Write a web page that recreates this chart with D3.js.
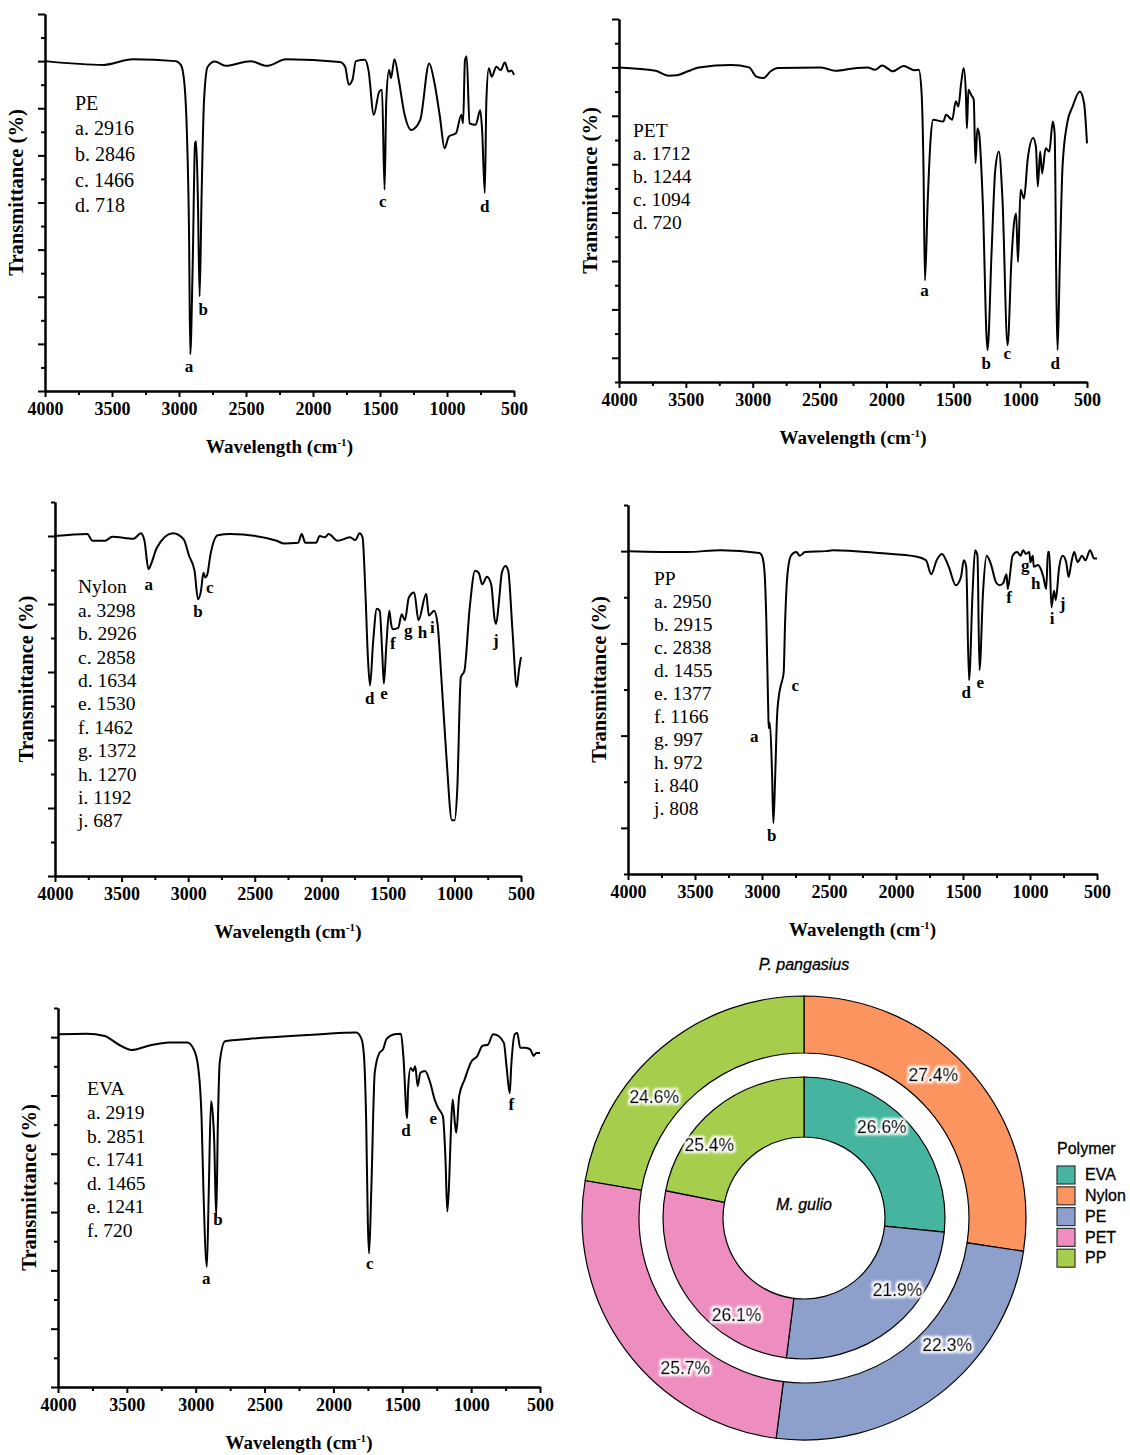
<!DOCTYPE html>
<html>
<head>
<meta charset="utf-8">
<title>FTIR spectra of polymers and polymer share</title>
<script src="https://d3js.org/d3.v7.min.js"></script>
<style>
    body { margin: 0; background: #fff; }
    .axis path, .axis line { stroke: #000; stroke-width: 2px; }
    .axis text { font-family: "Liberation Serif", serif; font-size: 18px; font-weight: bold; fill: #000; }
    .spectrum { fill: none; stroke: #000; stroke-width: 2px; stroke-linejoin: round; }
    .ax-title { font-family: "Liberation Serif", serif; font-weight: bold; }
    .peak-list { font-family: "Liberation Serif", serif; }
    .peak-mark { font-family: "Liberation Serif", serif; font-size: 17px; font-weight: bold; }
    .donut text { font-family: "Liberation Sans", Arial, sans-serif; }
</style>
</head>
<body>
<svg id="fig" width="1130" height="1455"></svg>
<script>
// DATA ========================================================
// spectra: [wavenumber (cm-1), transmittance (arbitrary units)]
const peData = [[4000,70],[3560,69.2],[3346,70.4],[3026,70],[2986,69.2],[2960,65.3],[2941,54.7],[2925,33.5],
    [2916,7.8],[2898,26.5],[2880,52.6],[2872,53],[2859,40.6],[2846,20.1],[2832,40.6],[2813,61.8],[2786,68.8],
    [2733,69.9],[2653,69],[2466,70],[2346,69],[2200,70.4],[1799,69.8],[1760,68.8],[1733,65],[1706,66],[1680,70],
    [1613,70.3],[1586,68.1],[1546,58.6],[1506,63.5],[1485,63.9],[1466,42.7],[1453,61.8],[1432,68.1],[1418,66.4],
    [1392,70.4],[1360,66],[1319,59],[1266,55.4],[1200,57.5],[1133,69.5],[1093,65.3],[1053,58.2],[1018,51.5],
    [986,54],[933,54.7],[893,58.6],[880,56.8],[866,70.2],[853,71],[832,56.8],[786,56.5],[752,59.6],[738,55.4],
    [718,42],[706,61.8],[688,68.5],[666,66.7],[632,68.8],[600,68.1],[568,69.7],[541,67.8],[520,68],[500,67.1]];

const petData = [[4000,60],[3726,59.3],[3632,58.3],[3565,58.4],[3484,59.2],[3403,60],[3161,60.5],[3027,60],
    [2973,58.1],[2919,57.8],[2866,59.2],[2812,59.9],[2489,60],[2382,59.3],[2220,59.9],[2140,60],[2086,59.5],
    [2032,60.4],[1952,59.2],[1871,60.3],[1790,59.4],[1758,59.5],[1737,54.7],[1723,39.5],[1712,16],[1691,32.6],
    [1670,45],[1651,49.2],[1575,48.8],[1554,50.2],[1508,49.2],[1481,53],[1462,51.9],[1441,56.8],[1422,59.9],
    [1406,54.7],[1398,47.4],[1387,55.4],[1366,54.3],[1347,53.3],[1334,40.2],[1320,47.4],[1307,46.4],[1280,32.6],
    [1244,1.6],[1213,22.3],[1186,38.8],[1159,42.6],[1132,32.6],[1094,2.6],[1065,20.2],[1046,27.8],[1030,29.8],
    [1016,19.8],[997,34.7],[971,32.9],[944,40.9],[903,45.4],[882,43.6],[868,35.4],[850,42.6],[836,38.1],
    [809,43.3],[782,42.6],[756,48.8],[742,46.4],[728,11.9],[720,1.6],[704,18.8],[683,39.5],[648,48.5],
    [608,51.9],[554,55],[522,52.6],[500,44.3]];

const nylonData = [[4000,50],[3758,50.3],[3718,49.3],[3624,49.3],[3570,49.9],[3409,49.6],[3355,50.4],[3328,49.3],
    [3298,45.1],[3280,45.8],[3234,48.3],[3114,50.4],[3033,49.5],[2993,47.1],[2952,44.9],[2926,40.7],[2904,41.9],
    [2885,44.6],[2872,43.9],[2858,44.2],[2832,47.3],[2778,50.1],[2684,50.3],[2335,49.3],[2281,48.9],[2174,49],
    [2147,50.3],[2120,49],[2039,49],[2012,50],[1972,49.8],[1945,50.3],[1878,49.3],[1784,49.8],[1744,49.4],
    [1712,50.4],[1690,49.8],[1669,41.9],[1650,32.2],[1634,28],[1610,34.6],[1583,39.3],[1561,39],[1542,32.7],
    [1530,28.3],[1511,34.1],[1489,39],[1476,37.1],[1462,36.3],[1422,36.5],[1396,38.5],[1372,37.6],[1342,41],
    [1302,41.7],[1270,37.6],[1212,41.5],[1192,38.3],[1153,39],[1127,37.1],[1100,29.7],[1060,17.5],[1019,8.2],
    [998,8.2],[979,12.6],[952,29.2],[925,30.2],[885,39.5],[845,44.9],[818,44.6],[791,42.9],[756,44],[724,42.9],
    [697,37.6],[687,37.1],[665,40.5],[644,44.6],[617,45.6],[596,44.9],[564,36.1],[532,27.8],[516,30.2],[500,32.2]];

const ppData = [[4000,30],[3568,29.9],[3307,30.1],[3019,29.8],[2998,29.4],[2980,27.5],[2967,22.1],[2954,13.1],
    [2950,10.8],[2941,11.4],[2925,5.9],[2915,0.5],[2901,5.9],[2888,12],[2875,14.2],[2862,15.3],[2849,16],
    [2838,16.9],[2828,22.1],[2810,27.5],[2784,29.5],[2744,29.9],[2718,29.5],[2679,29.9],[2522,30],[2470,30.1],
    [2129,29.8],[1842,29.4],[1776,29],[1737,27.5],[1697,29],[1658,29.7],[1606,28.3],[1554,26.3],[1515,27.2],
    [1494,29],[1476,28.3],[1455,16],[1428,25.7],[1410,30.1],[1392,29.5],[1377,17.1],[1350,25.7],[1324,29.5],
    [1292,28.6],[1253,26.6],[1227,26.3],[1201,26.5],[1175,27.5],[1166,25.9],[1130,29.5],[1096,29.9],[1070,29.5],
    [1052,30.1],[1031,29.7],[1005,29.9],[997,28.8],[979,29.5],[972,28.3],[939,28.5],[921,28.1],[900,27.2],
    [879,25.9],[866,29.9],[856,29.9],[840,23.9],[821,25.7],[808,24.7],[782,28.3],[756,29.5],[730,28.8],
    [712,27.2],[691,28.8],[670,29.9],[644,28.8],[612,29.5],[586,29],[552,30.1],[521,29.2],[500,29.2]];

const evaData = [[4000,60.5],[3791,60.6],[3661,60.2],[3557,58.7],[3465,57.8],[3348,58.5],[3192,59.1],[3061,59.1],
    [3014,57.9],[2983,55],[2957,45.8],[2944,33.8],[2919,20.6],[2905,33.8],[2889,49],[2879,47.6],[2866,42.4],
    [2851,29.2],[2839,45.3],[2826,55.6],[2787,59.3],[2618,59.7],[2096,60.5],[1835,60.8],[1796,59.7],[1778,56.7],
    [1762,45.3],[1750,28.1],[1741,22.9],[1725,33.8],[1700,53.9],[1666,57.3],[1640,57.9],[1614,59.7],[1557,60.5],
    [1510,60.6],[1492,56.7],[1465,46.1],[1458,51],[1440,54.7],[1421,54.2],[1406,55],[1388,51.6],[1369,53.9],
    [1335,54.2],[1296,52.1],[1265,49.3],[1241,47.9],[1205,46.4],[1187,39.5],[1173,30.1],[1160,35],[1145,45.3],
    [1134,49.3],[1118,45.3],[1108,43.6],[1087,49.9],[1048,52.7],[996,55.9],[957,56.7],[918,58.5],[879,58.7],
    [840,60.5],[801,60.2],[762,59],[743,55],[720,50.4],[709,55],[683,60.5],[665,60.7],[644,58.2],[605,58.2],
    [571,57.9],[545,56.8],[527,57.3],[500,57.3]];

// peak assignments: [letter, wavenumber]
const pePeaks = [["a",2916],["b",2846],["c",1466],["d",718]];
const petPeaks = [["a",1712],["b",1244],["c",1094],["d",720]];
const nylonPeaks = [["a",3298],["b",2926],["c",2858],["d",1634],["e",1530],["f",1462],["g",1372],["h",1270],["i",1192],["j",687]];
const ppPeaks = [["a",2950],["b",2915],["c",2838],["d",1455],["e",1377],["f",1166],["g",997],["h",972],["i",840],["j",808]];
const evaPeaks = [["a",2919],["b",2851],["c",1741],["d",1465],["e",1241],["f",720]];

// where each peak letter sits: [letter, wavenumber, transmittance]
const peMarks = [["a",2925,4.9],["b",2820,16.9],["c",1479,39.9],["d",718,38.8]];
const petMarks = [["a",1715,13.6],["b",1253,-1.6],["c",1097,0.5],["d",737,-1.6]];
const nylonMarks = [["a",3296,42.7],["b",2926,38.6],["c",2837,42.2],["d",1636,25.8],["e",1529,26.6],
    ["f",1462,33.9],["g",1346,35.8],["h",1239,35.6],["i",1166,36.3],["j",689,34.4]];
const ppMarks = [["a",3058,9.7],["b",2927,-1],["c",2752,15.3],["d",1476,14.5],["e",1371,15.6],
    ["f",1156,24.8],["g",1036,28.3],["h",958,26.3],["i",835,22.5],["j",756,24.1]];
const evaMarks = [["a",2923,18.3],["b",2839,28.4],["c",1736,20.9],["d",1474,43.8],["e",1275,45.8],["f",709,48.1]];

// wavenumber axis ticks
const xMajor = [4000,3500,3000,2500,2000,1500,1000,500];
const xMinor = [3750,3250,2750,2250,1750,1250,750];

// polymer share (%)
const polymers = ["EVA","Nylon","PE","PET","PP"];
const polymerColors = ["#46b59f","#fc9460","#8d9fcb","#ee8dbf","#a6cd4c"];
const outerPct = [0, 27.4, 22.3, 25.7, 24.6];   // P. pangasius, printed labels
const innerPct = [26.6, 0, 21.9, 26.1, 25.4];   // M. gulio, printed labels
const outerArc = [0, 27.4, 24.6, 25.7, 22.3];   // slice sizes as drawn
const innerArc = [26.6, 0, 25.4, 26.1, 21.9];

// LAYOUT ======================================================
const panels = [
    {name:"PE", data:peData, peaks:pePeaks, marks:peMarks, x0:45, x1:514, y0:14, y1:391, yDom:[0,80], tx:75, ty:105, lh:25.7, fs:20},
    {name:"PET", data:petData, peaks:petPeaks, marks:petMarks, x0:619, x1:1087, y0:19, y1:382, yDom:[-5,70], tx:633, ty:133, lh:22.8, fs:19.5},
    {name:"Nylon", data:nylonData, peaks:nylonPeaks, marks:nylonMarks, x0:55, x1:521, y0:502, y1:876, yDom:[0,55], tx:78, ty:589, lh:23.4, fs:19.5},
    {name:"PP", data:ppData, peaks:ppPeaks, marks:ppMarks, x0:628, x1:1097, y0:505, y1:874, yDom:[-5,35], tx:654, ty:581, lh:23, fs:19.5},
    {name:"EVA", data:evaData, peaks:evaPeaks, marks:evaMarks, x0:58, x1:540, y0:1008, y1:1387, yDom:[0,65], tx:87, ty:1091, lh:23.6, fs:19.5}
];

const svg = d3.select("#fig");
svg.append("rect").attr("width", 1130).attr("height", 1455).attr("fill", "#fff");

// SPECTRA =====================================================
panels.forEach(p => {
    const g = svg.append("g");
    const x = d3.scaleLinear().domain([4000, 500]).range([p.x0, p.x1]);
    const y = d3.scaleLinear().domain(p.yDom).range([p.y1, p.y0]);

    const yMajor = d3.range(Math.ceil(p.yDom[0] / 10) * 10, p.yDom[1] + 0.1, 10);
    const yMinor = d3.range(Math.ceil(p.yDom[0] / 5) * 5, p.yDom[1] + 0.1, 5).filter(v => v % 10 !== 0);

    // minor ticks first, then major axis with the labels
    g.append("g").attr("class", "axis").attr("transform", `translate(0,${p.y1})`)
        .call(d3.axisBottom(x).tickValues(xMinor).tickSize(4).tickSizeOuter(0).tickFormat(""));
    g.append("g").attr("class", "axis").attr("transform", `translate(0,${p.y1})`)
        .call(d3.axisBottom(x).tickValues(xMajor).tickSize(6).tickSizeOuter(0).tickPadding(5).tickFormat(d3.format("d")));
    g.append("g").attr("class", "axis").attr("transform", `translate(${p.x0},0)`)
        .call(d3.axisLeft(y).tickValues(yMinor).tickSize(4).tickSizeOuter(0).tickFormat(""));
    g.append("g").attr("class", "axis").attr("transform", `translate(${p.x0},0)`)
        .call(d3.axisLeft(y).tickValues(yMajor).tickSize(7).tickSizeOuter(0).tickFormat(""));

    g.append("path")
        .datum(p.data)
        .attr("class", "spectrum")
        .attr("d", d3.line().curve(d3.curveMonotoneX).x(d => x(d[0])).y(d => y(d[1])));

    // axis titles
    const xt = g.append("text").attr("class", "ax-title")
        .attr("font-size", 19)
        .attr("x", (p.x0 + p.x1) / 2).attr("y", p.y1 + 62)
        .attr("text-anchor", "middle");
    xt.append("tspan").text("Wavelength (cm");
    xt.append("tspan").attr("dy", -7).attr("font-size", 11).text("-1");
    xt.append("tspan").attr("dy", 7).text(")");

    g.append("text").attr("class", "ax-title")
        .attr("font-size", 20.5)
        .attr("transform", `translate(${p.x0 - 27},${(p.y0 + p.y1) / 2 - 10}) rotate(-90)`)
        .attr("text-anchor", "middle")
        .attr("dominant-baseline", "middle")
        .text("Transmittance (%)");

    // peak list
    const lines = [p.name].concat(p.peaks.map(d => `${d[0]}. ${d[1]}`));
    g.append("g").selectAll("text")
        .data(lines)
        .join("text")
        .attr("class", "peak-list")
        .attr("font-size", p.fs)
        .attr("x", p.tx)
        .attr("y", (d, i) => p.ty + i * p.lh)
        .attr("dominant-baseline", "middle")
        .text(d => d);

    // peak letters on the curve
    g.append("g").selectAll("text")
        .data(p.marks)
        .join("text")
        .attr("class", "peak-mark")
        .attr("x", d => x(d[1]))
        .attr("y", d => y(d[2]))
        .attr("text-anchor", "middle")
        .attr("dominant-baseline", "middle")
        .text(d => d[0]);
});

// DONUT =======================================================
const cx = 804, cy = 1218;
const donut = svg.append("g").attr("class", "donut").attr("transform", `translate(${cx},${cy})`);
const pie = d3.pie().sort(null).value(d => d);
const labelTurn = -7 * Math.PI / 180;

const defs = svg.append("defs");
const glow = defs.append("filter").attr("id", "halo").attr("x", "-20%").attr("y", "-40%").attr("width", "140%").attr("height", "180%");
glow.append("feMorphology").attr("in", "SourceAlpha").attr("operator", "dilate").attr("radius", 2).attr("result", "fat");
glow.append("feGaussianBlur").attr("in", "fat").attr("stdDeviation", 1.2).attr("result", "soft");
glow.append("feFlood").attr("flood-color", "#fff");
glow.append("feComposite").attr("in2", "soft").attr("operator", "in").attr("result", "white");
const merge = glow.append("feMerge");
merge.append("feMergeNode").attr("in", "white");
merge.append("feMergeNode").attr("in", "SourceGraphic");

function ring(arcShare, pct, r0, r1, rText) {
    const arc = d3.arc().innerRadius(r0).outerRadius(r1);
    donut.append("g").selectAll("path")
        .data(pie(arcShare).map((a, i) => ({...a, i})).filter(a => a.value > 0))
        .join("path")
        .attr("d", arc)
        .attr("fill", d => polymerColors[d.i])
        .attr("stroke", "#000")
        .attr("stroke-width", 1.2);

    donut.append("g").selectAll("text")
        .data(pie(pct).map((a, i) => ({...a, i})).filter(a => a.value > 0))
        .join("text")
        .attr("x", d => rText * Math.sin((d.startAngle + d.endAngle) / 2 + labelTurn))
        .attr("y", d => -rText * Math.cos((d.startAngle + d.endAngle) / 2 + labelTurn))
        .attr("text-anchor", "middle")
        .attr("dominant-baseline", "middle")
        .attr("font-size", 17.5)
        .attr("filter", "url(#halo)")
        .attr("fill", "#000")
        .attr("stroke", "#000")
        .attr("stroke-width", 0.45)
        .text(d => d.value.toFixed(1) + "%");
}

ring(outerArc, outerPct, 165, 222, 192);
ring(innerArc, innerPct, 81, 141, 119);

donut.append("text")
    .attr("x", 0).attr("y", 966 - cy)
    .attr("text-anchor", "middle").attr("dominant-baseline", "middle")
    .attr("font-size", 16).attr("font-style", "italic")
    .attr("stroke", "#000").attr("stroke-width", 0.3)
    .text("P. pangasius");
donut.append("text")
    .attr("x", 0).attr("y", 1206 - cy)
    .attr("text-anchor", "middle").attr("dominant-baseline", "middle")
    .attr("font-size", 16).attr("font-style", "italic")
    .attr("stroke", "#000").attr("stroke-width", 0.3)
    .text("M. gulio");

// LEGEND ======================================================
const legend = svg.append("g").attr("class", "donut").attr("transform", "translate(1057,1150)");
legend.append("text").attr("x", 0).attr("y", 0)
    .attr("dominant-baseline", "middle").attr("font-size", 16)
    .attr("stroke", "#000").attr("stroke-width", 0.3)
    .text("Polymer");
const item = legend.selectAll("g.item")
    .data(polymers)
    .join("g")
    .attr("class", "item")
    .attr("transform", (d, i) => `translate(0,${16 + i * 20.8})`);
item.append("rect")
    .attr("width", 18).attr("height", 18)
    .attr("fill", (d, i) => polymerColors[i])
    .attr("stroke", "#333").attr("stroke-width", 1.2);
item.append("text")
    .attr("x", 28).attr("y", 10)
    .attr("dominant-baseline", "middle").attr("font-size", 16)
    .attr("stroke", "#000").attr("stroke-width", 0.3)
    .text(d => d);
</script>
</body>
</html>
